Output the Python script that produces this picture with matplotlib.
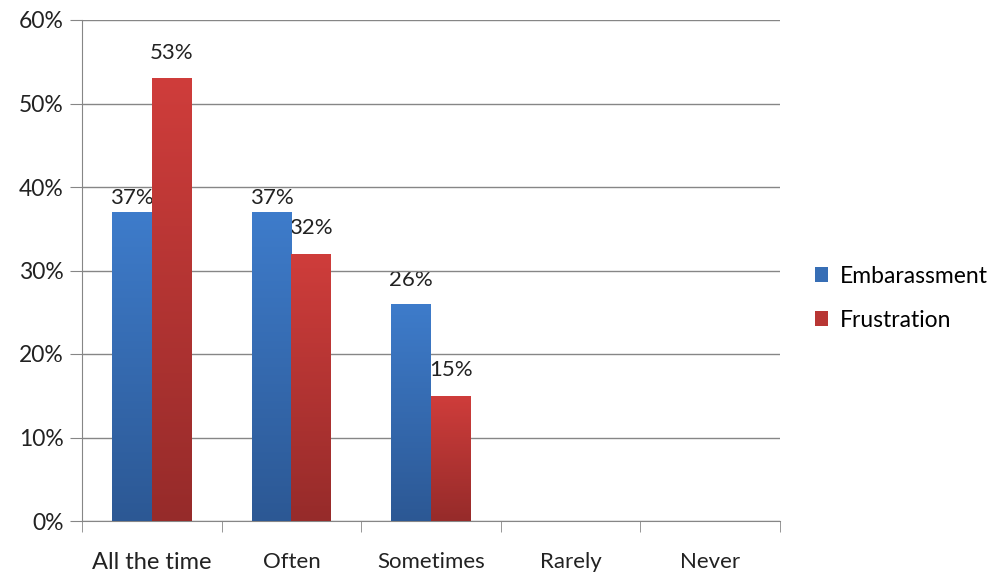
import numpy as np
import matplotlib.pyplot as plt
from matplotlib.colors import LinearSegmentedColormap

categories = ['All the time', 'Often', 'Sometimes', 'Rarely', 'Never']
embarassment = [37, 37, 26, 0, 0]
frustration = [53, 32, 15, 0, 0]
series_names = ['Embarassment', 'Frustration']

plt.rcParams['font.family'] = ['Lato', 'DejaVu Sans']

fig = plt.figure(figsize=(10.01, 5.88), dpi=100)
ax = fig.add_axes([82 / 1001, 67 / 588, 698 / 1001, 501 / 588])

# gradients facon Excel (clair en haut, fonce en bas)
cmap_blue = LinearSegmentedColormap.from_list('b', ['#2c5894', '#3e7ccb'])
cmap_red = LinearSegmentedColormap.from_list('r', ['#962b2a', '#cf3d3b'])

x = np.arange(len(categories))
w = 0.285
grad = np.linspace(0, 1, 256).reshape(-1, 1)

# decalage des etiquettes au-dessus des barres (les 37% sont plus bas dans l'original)
lifts = {0: [0.5, 0.5, 1.7, 0, 0], 1: [1.8, 1.9, 1.9, 0, 0]}

for k, (vals, off, cmap, name) in enumerate([(embarassment, -w / 2, cmap_blue, series_names[0]),
                                              (frustration, w / 2, cmap_red, series_names[1])]):
    bars = ax.bar(x + off, vals, w, color=cmap(0.6), label=name, zorder=2)
    for b, v, lift in zip(bars, vals, lifts[k]):
        if v == 0:
            continue
        x0, y0 = b.get_x(), b.get_y()
        im = ax.imshow(grad, extent=[x0, x0 + b.get_width(), y0, y0 + b.get_height()],
                       origin='lower', cmap=cmap, aspect='auto', zorder=3)
        im.set_clip_path(b)
        ax.text(b.get_x() + b.get_width() / 2, v + lift, f'{v}%', ha='center', va='bottom',
                fontsize=16, color='#222222', zorder=1.5)

ax.set_xlim(-0.5, len(categories) - 0.5)
ax.set_ylim(0, 60)
ax.set_yticks(range(0, 61, 10))
ax.set_yticklabels([f'{t}%' for t in range(0, 61, 10)], fontsize=16.5, color='#222222')
ax.set_xticks(x)
ax.set_xticklabels(categories, fontsize=16, color='#222222')
ax.get_xticklabels()[0].set_fontsize(17)
ax.set_xticks(np.arange(-0.5, len(categories)), minor=True)
ax.tick_params(axis='x', which='major', length=0, pad=22)
ax.tick_params(axis='x', which='minor', length=8, color='#868686')
ax.tick_params(axis='y', length=9, color='#868686', pad=4)

ax.grid(axis='y', color='#868686', linewidth=1, zorder=0)
for s in ['top', 'right']:
    ax.spines[s].set_visible(False)
for s in ['left', 'bottom']:
    ax.spines[s].set_color('#868686')

ax.legend(loc='center left', bbox_to_anchor=(1.02, 0.445), frameon=False, fontsize=16.5,
          handlelength=0.6, handleheight=0.6, handletextpad=0.5, labelspacing=1.0)

plt.savefig('out.png', dpi=100)
